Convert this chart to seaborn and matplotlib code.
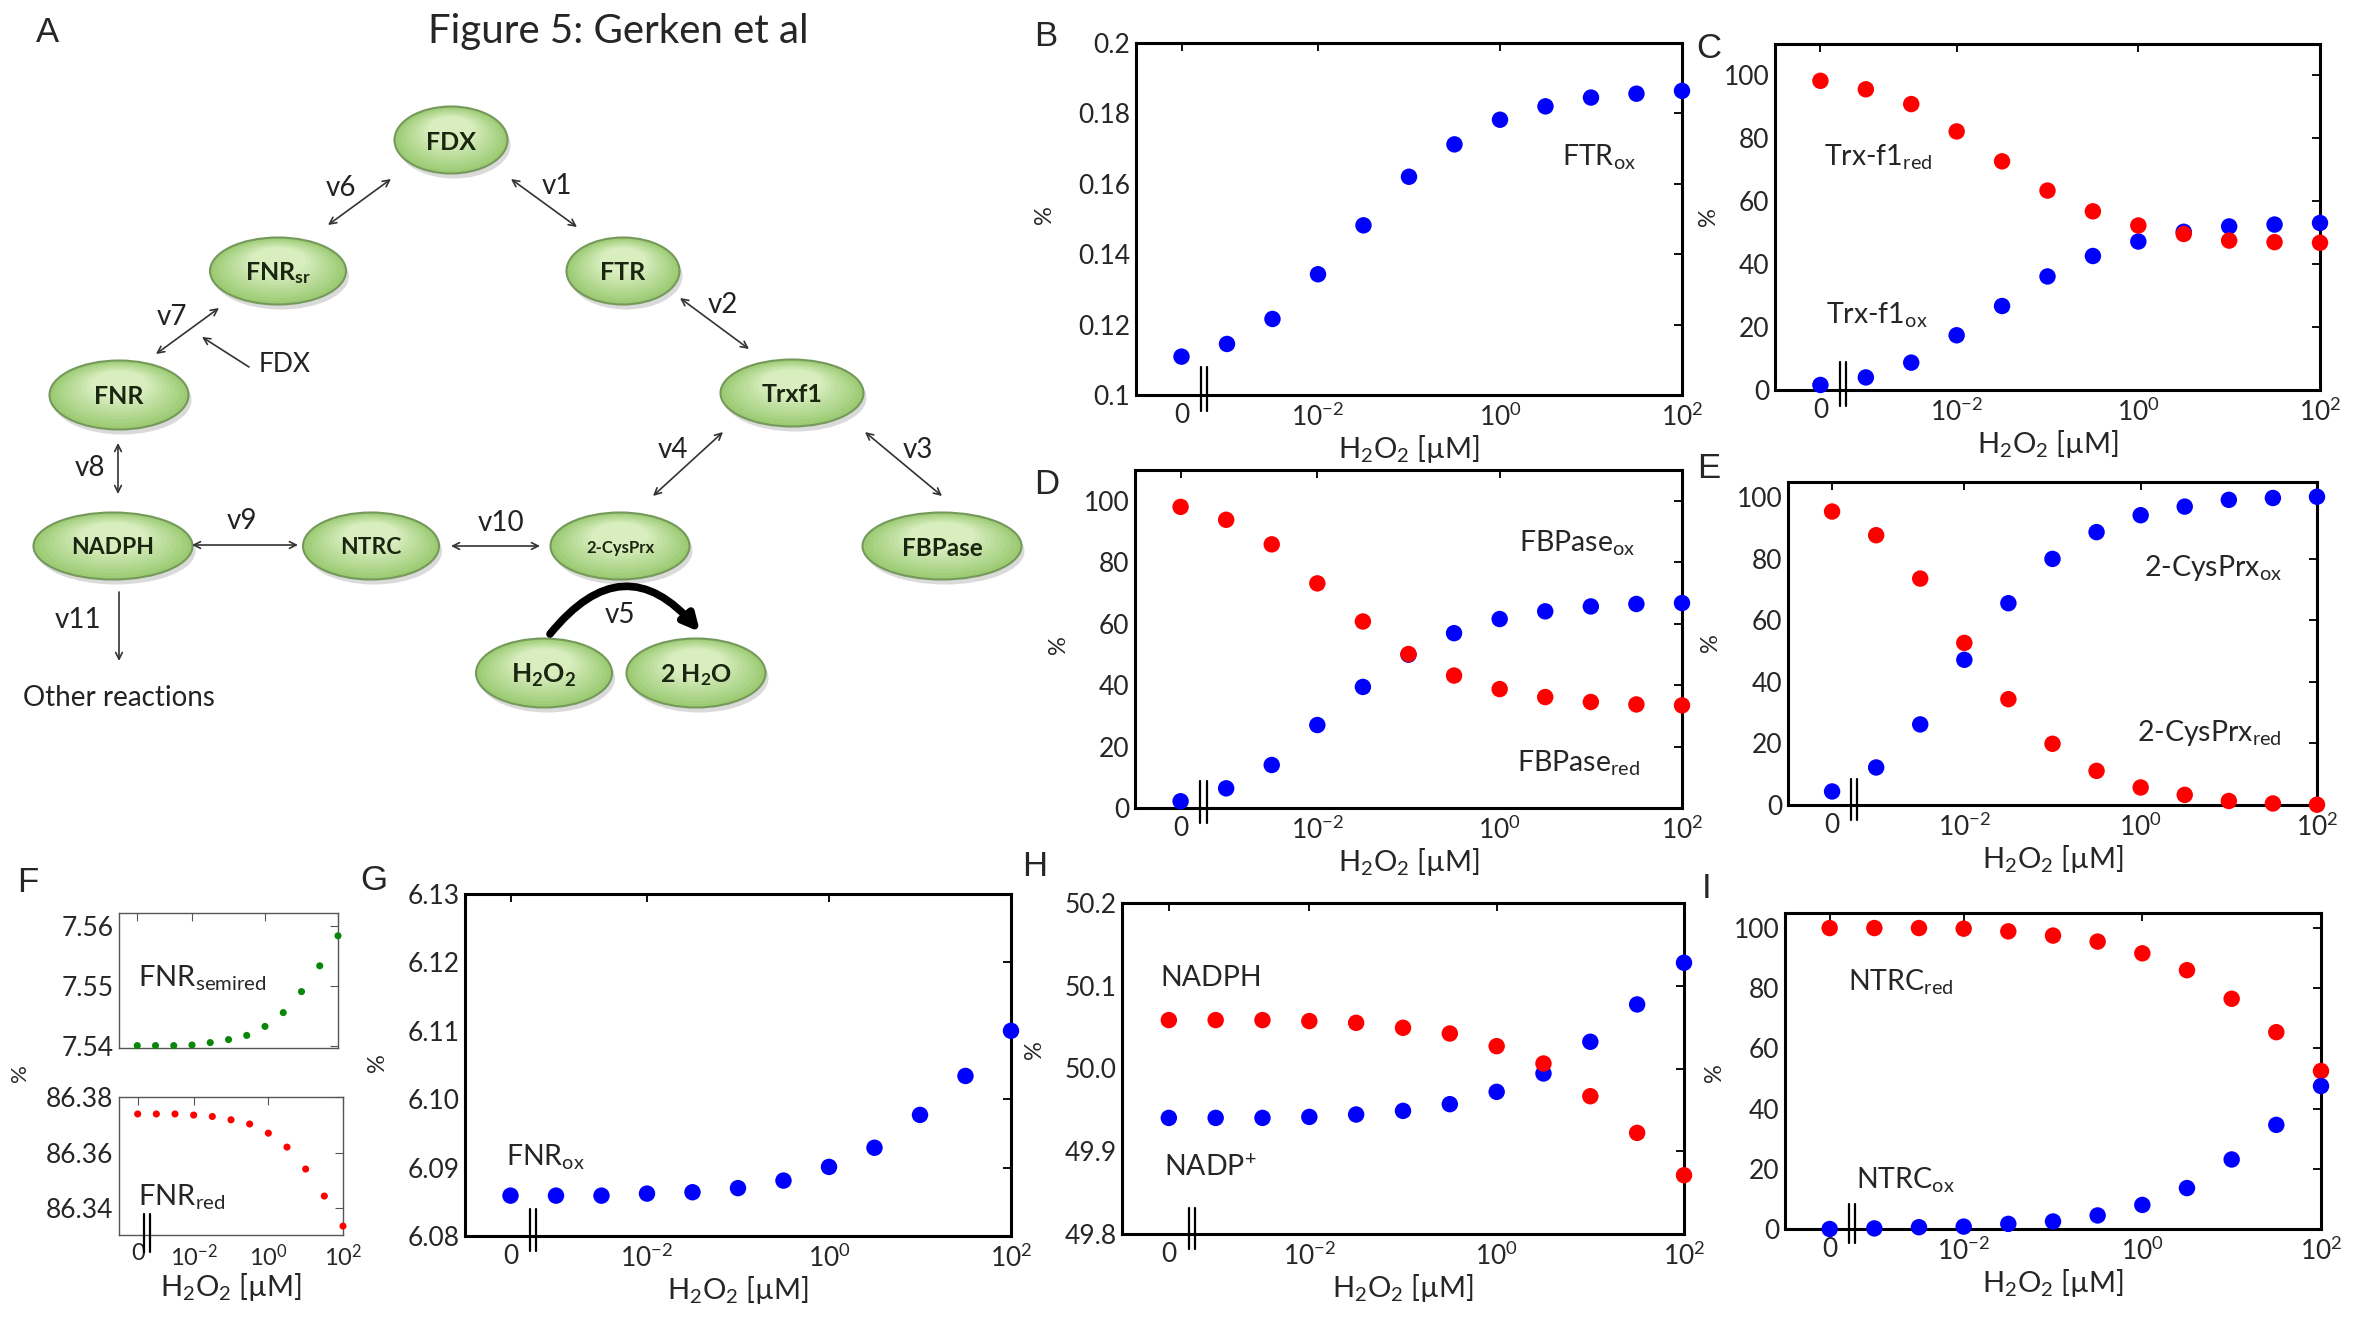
import numpy as np
import pandas as pd
import matplotlib
matplotlib.use("Agg")
import matplotlib.pyplot as plt
import matplotlib.transforms as mtransforms
from matplotlib.patches import Ellipse, FancyArrowPatch
import matplotlib.colors as mcolors
import seaborn as sns

# ---------------- data ----------------
H2O2_UM = [0, 0.001, 0.00316, 0.01, 0.0316, 0.1, 0.316, 1, 3.16, 10, 31.6, 100]
XTICK_VALUES = [0, 0.01, 1, 100]
XTICK_LABELS = ["0", r"$10^{-2}$", r"$10^{0}$", r"$10^{2}$"]

FTR_OX = [0.1109, 0.1145, 0.1216, 0.1343, 0.1482, 0.1620, 0.1712, 0.1782, 0.1820, 0.1845, 0.1856, 0.1864]

TRX_RED = [98.3, 95.6, 90.9, 82.2, 72.7, 63.4, 56.8, 52.3, 49.6, 47.5, 47.0, 46.8]
TRX_OX = [1.6, 4.0, 8.7, 17.4, 26.7, 36.1, 42.6, 47.2, 50.3, 52.0, 52.6, 53.1]

FBP_RED = [98.0, 93.8, 85.8, 73.1, 60.7, 50.1, 43.1, 38.7, 36.1, 34.5, 33.7, 33.4]
FBP_OX = [2.2, 6.4, 14.0, 27.0, 39.4, 49.9, 56.9, 61.5, 64.0, 65.6, 66.4, 66.7]

PRX_RED = [95.4, 87.7, 73.6, 52.7, 34.4, 19.9, 11.1, 5.7, 3.3, 1.3, 0.5, 0.1]
PRX_OX = [4.4, 12.2, 26.2, 47.2, 65.6, 80.0, 88.7, 94.2, 97.0, 99.2, 99.8, 100.2]

FNR_SEMIRED = [7.5401, 7.5401, 7.5401, 7.5402, 7.5406, 7.5411, 7.5418, 7.5433, 7.5456, 7.5491, 7.5534, 7.5584]
FNR_RED = [86.3739, 86.3739, 86.3739, 86.3735, 86.3730, 86.3718, 86.3703, 86.3670, 86.3620, 86.3541, 86.3444, 86.3336]
FNR_OX = [6.0859, 6.0859, 6.0859, 6.0862, 6.0864, 6.0870, 6.0881, 6.0901, 6.0929, 6.0977, 6.1034, 6.1100]

NADPH = [50.0585, 50.0585, 50.0585, 50.0573, 50.0552, 50.0492, 50.0423, 50.0270, 50.0060, 49.9665, 49.9222, 49.8710]
NADP = [49.9403, 49.9403, 49.9403, 49.9415, 49.9444, 49.9488, 49.9569, 49.9718, 49.9940, 50.0323, 50.0774, 50.1278]

NTRC_RED = [100.0, 100.0, 100.0, 99.8, 98.9, 97.5, 95.5, 91.6, 86.0, 76.5, 65.4, 52.5]
NTRC_OX = [0.0, 0.2, 0.6, 0.8, 1.7, 2.5, 4.5, 8.0, 13.6, 23.1, 34.6, 47.5]

Y_PCT = [0, 20, 40, 60, 80, 100]
Y_PCT_LABELS = ["0", "20", "40", "60", "80", "100"]
Y_FTR = [0.10, 0.12, 0.14, 0.16, 0.18, 0.20]
Y_FTR_LABELS = ["0.1", "0.12", "0.14", "0.16", "0.18", "0.2"]
Y_FNROX = [6.08, 6.09, 6.10, 6.11, 6.12, 6.13]
Y_FNROX_LABELS = ["6.08", "6.09", "6.10", "6.11", "6.12", "6.13"]
Y_NADP = [49.8, 49.9, 50.0, 50.1, 50.2]
Y_NADP_LABELS = ["49.8", "49.9", "50.0", "50.1", "50.2"]
Y_SEMI = [7.54, 7.55, 7.56]
Y_SEMI_LABELS = ["7.54", "7.55", "7.56"]
Y_FRED = [86.34, 86.36, 86.38]
Y_FRED_LABELS = ["86.34", "86.36", "86.38"]

# ---------------- style ----------------
sns.set_style("white")
plt.rcParams["font.family"] = ["Lato", "DejaVu Sans"]
plt.rcParams["mathtext.default"] = "regular"
plt.rcParams["axes.unicode_minus"] = True

W, H, DPI = 2358, 1320, 100
fig = plt.figure(figsize=(W / DPI, H / DPI), dpi=DPI)
fig.patch.set_facecolor("white")

BLUE, RED, GREEN = "#0000ff", "#ff0000", "#0a860a"
ZERO_POS = -3.5
XLIM = (-4.0, 2.0)
BREAK_X = -3.25
XLABEL_FS = 21


def to_pos(c):
    return ZERO_POS if c == 0 else float(np.log10(c))


X_POS = [to_pos(c) for c in H2O2_UM]
XTICK_POS = [to_pos(c) for c in XTICK_VALUES]
XLABEL = r"H$_2$O$_2$ [µM]"


def rect(l, t, r, b):
    return [l / W, 1 - b / H, (r - l) / W, (b - t) / H]


def ftext(x, y, s, **kw):
    return fig.text(x / W, 1 - y / H, s, **kw)


def make_panel(box, series, ylim, yticks, ylabels, size=140, tick_fs=19, xtick_fs=19,
               spine_lw=2.2, spine_col="black", show_x=True,
               break_y=(-0.045, 0.08)):
    ax = fig.add_axes(rect(*box))
    frames = [pd.DataFrame({"pos": X_POS, "val": vals, "c": col}) for vals, col in series]
    df = pd.concat(frames, ignore_index=True)
    pal = {c: c for c in df["c"].unique()}
    sns.scatterplot(data=df, x="pos", y="val", hue="c", palette=pal, s=size,
                    linewidth=0, legend=False, clip_on=False, zorder=5, ax=ax)
    ax.set_xlim(*XLIM)
    ax.set_ylim(*ylim)
    ax.set_yticks(yticks)
    ax.set_yticklabels(ylabels)
    ax.set_xticks(XTICK_POS)
    ax.set_xticklabels(XTICK_LABELS if show_x else [])
    ax.set_xlabel(XLABEL if show_x else "", fontsize=XLABEL_FS, labelpad=1)
    ax.set_ylabel("")
    for sp in ax.spines.values():
        sp.set_visible(True)
        sp.set_linewidth(spine_lw)
        sp.set_color(spine_col)
    ax.tick_params(direction="in", top=True, right=True, length=6,
                   width=max(spine_lw * 0.6, 0.8), color=spine_col, pad=6)
    ax.tick_params(axis="y", pad=4, labelsize=tick_fs)
    ax.tick_params(axis="x", labelsize=xtick_fs)
    ax.patch.set_facecolor("white")
    if break_y is not None:
        width_px = box[2] - box[0]
        dx = 3.2 * (XLIM[1] - XLIM[0]) / width_px
        tr = mtransforms.blended_transform_factory(ax.transData, ax.transAxes)
        for off in (-dx, dx):
            ax.plot([BREAK_X + off, BREAK_X + off], list(break_y), color="black",
                    lw=1.6, transform=tr, clip_on=False, zorder=6)
    return ax


# ---------------- panels B-I ----------------
make_panel((1136, 43, 1682, 395), [(FTR_OX, BLUE)], (0.10, 0.20), Y_FTR, Y_FTR_LABELS)
make_panel((1775, 44, 2320, 390), [(TRX_OX, BLUE), (TRX_RED, RED)], (0, 110), Y_PCT, Y_PCT_LABELS)
make_panel((1135, 470, 1682, 808), [(FBP_OX, BLUE), (FBP_RED, RED)], (0, 110), Y_PCT, Y_PCT_LABELS)
make_panel((1788, 482, 2317, 805), [(PRX_RED, RED), (PRX_OX, BLUE)], (0, 105), Y_PCT, Y_PCT_LABELS)
make_panel((119, 913, 338, 1048), [(FNR_SEMIRED, GREEN)], (7.5397, 7.5622), Y_SEMI, Y_SEMI_LABELS,
           size=26, spine_lw=1.0, spine_col="#555555", show_x=False, break_y=None)
make_panel((119, 1097, 343, 1235), [(FNR_RED, RED)], (86.3304, 86.38), Y_FRED, Y_FRED_LABELS,
           size=26, xtick_fs=17, spine_lw=1.0, spine_col="#555555", break_y=(-0.12, 0.15))
make_panel((465, 894, 1011, 1236), [(FNR_OX, BLUE)], (6.08, 6.13), Y_FNROX, Y_FNROX_LABELS)
make_panel((1122, 903, 1684, 1234), [(NADP, BLUE), (NADPH, RED)], (49.8, 50.2), Y_NADP, Y_NADP_LABELS)
make_panel((1785, 913, 2321, 1229), [(NTRC_RED, RED), (NTRC_OX, BLUE)], (0, 105), Y_PCT, Y_PCT_LABELS)

# "%" labels
for x, y, fs in [(1045, 215, 17), (1708, 217, 17), (1058, 645, 17), (1710, 643, 17),
                 (377, 1063, 17), (1035, 1050, 17), (1714, 1073, 17), (20, 1073, 16)]:
    ftext(x, y, "%", rotation=90, ha="center", va="center", fontsize=fs)

# in-panel labels
LBL = 20.5
for x, y, s, fs in [
    (1562, 157, r"FTR$_{ox}$", LBL),
    (1824, 157, r"Trx-f1$_{red}$", LBL),
    (1826, 315, r"Trx-f1$_{ox}$", LBL),
    (1519, 543, r"FBPase$_{ox}$", LBL),
    (1517, 763, r"FBPase$_{red}$", LBL),
    (2144, 568, r"2-CysPrx$_{ox}$", LBL),
    (2137, 733, r"2-CysPrx$_{red}$", LBL),
    (138, 978, r"FNR$_{semired}$", 21),
    (138, 1197, r"FNR$_{red}$", 21),
    (506, 1157, r"FNR$_{ox}$", LBL),
    (1160, 978, "NADPH", LBL),
    (1164, 1168, r"NADP$^{+}$", LBL),
    (1848, 982, r"NTRC$_{red}$", LBL),
    (1856, 1180, r"NTRC$_{ox}$", LBL),
]:
    ftext(x, y, s, ha="left", va="center", fontsize=fs)

# panel letters & title
for x, y, s in [(47, 33, "A"), (1046, 36, "B"), (1709, 48, "C"), (1047, 485, "D"),
                (1709, 469, "E"), (28, 883, "F"), (374, 880, "G"), (1035, 867, "H"),
                (1707, 888, "I")]:
    ftext(x, y, s, ha="center", va="center", fontsize=25, family=["Liberation Sans", "DejaVu Sans"])
ftext(618, 32, "Figure 5: Gerken et al", ha="center", va="center", fontsize=29)

# ---------------- panel A: network diagram ----------------
ax0 = fig.add_axes([0, 0, 1, 1], zorder=-1)
ax0.set_xlim(0, W)
ax0.set_ylim(H, 0)
ax0.axis("off")

EDGE_C = mcolors.to_rgb("#9ccb74")
CENTER_C = mcolors.to_rgb("#d8eebf")


def node(cx, cy, w, h, label, fs=16):
    ax0.add_patch(Ellipse((cx + 3, cy + 5), w, h, facecolor="#bdbdbd", edgecolor="none", alpha=0.55))
    n = 10
    for i in range(n):
        f = 1 - i * 0.065
        t = i / (n - 1)
        col = tuple(EDGE_C[k] + (CENTER_C[k] - EDGE_C[k]) * t for k in range(3))
        ax0.add_patch(Ellipse((cx, cy - (1 - f) * h * 0.25), w * f, h * f,
                              facecolor=col, edgecolor="none"))
    ax0.add_patch(Ellipse((cx, cy), w, h, facecolor="none", edgecolor="#74995a", lw=1.5))
    ax0.text(cx, cy + 2, label, ha="center", va="center", fontsize=fs,
             color="#1b2610", fontweight="bold")


for cx, cy, w, h, s, fs in [
    (451, 140, 113, 67, "FDX", 18),
    (278, 271, 136, 67, r"FNR$_{sr}$", 18),
    (623, 271, 113, 67, "FTR", 18),
    (119, 395, 139, 69, "FNR", 18),
    (792, 393, 143, 67, "Trxf1", 18),
    (113, 546, 159, 67, "NADPH", 16.5),
    (371, 546, 136, 67, "NTRC", 16.5),
    (620, 546, 139, 67, "2-CysPrx", 12),
    (942, 546, 159, 67, "FBPase", 17.5),
    (544, 673, 136, 69, r"H$_2$O$_2$", 19),
    (696, 673, 139, 69, r"2 H$_2$O", 18),
]:
    node(cx, cy, w, h, s, fs)


def arrow(p1, p2, style="<->", lw=1.2, ms=12, rad=0.0, color="#333333"):
    ax0.add_patch(FancyArrowPatch(p1, p2, arrowstyle=style, mutation_scale=ms, lw=lw,
                                  color=color, connectionstyle=f"arc3,rad={rad}",
                                  shrinkA=0, shrinkB=0))


arrow((328, 225), (391, 179))
arrow((511, 179), (577, 227))
arrow((156, 354), (219, 308))
arrow((249, 367), (202, 337), style="->")
arrow((680, 298), (749, 349))
arrow((118, 443), (118, 494))
arrow((653, 496), (723, 432))
arrow((865, 432), (942, 496))
arrow((192, 545), (298, 545))
arrow((451, 546), (540, 546))
arrow((119, 592), (119, 661), style="->")
arrow((550, 634), (700, 632), style="-|>", lw=5.5, ms=24, rad=-0.6, color="black")

AFS = 20
for x, y, s, fs in [(341, 188, "v6", AFS), (557, 186, "v1", AFS), (172, 317, "v7", AFS),
                    (285, 365, "FDX", 19), (723, 305, "v2", AFS), (90, 468, "v8", AFS),
                    (673, 450, "v4", AFS), (918, 450, "v3", AFS), (242, 521, "v9", AFS),
                    (501, 523, "v10", AFS), (78, 620, "v11", AFS), (620, 615, "v5", AFS),
                    (119, 698, "Other reactions", AFS)]:
    ax0.text(x, y, s, ha="center", va="center", fontsize=fs, color="#222222")

fig.savefig("out.png", dpi=DPI, facecolor="white")
